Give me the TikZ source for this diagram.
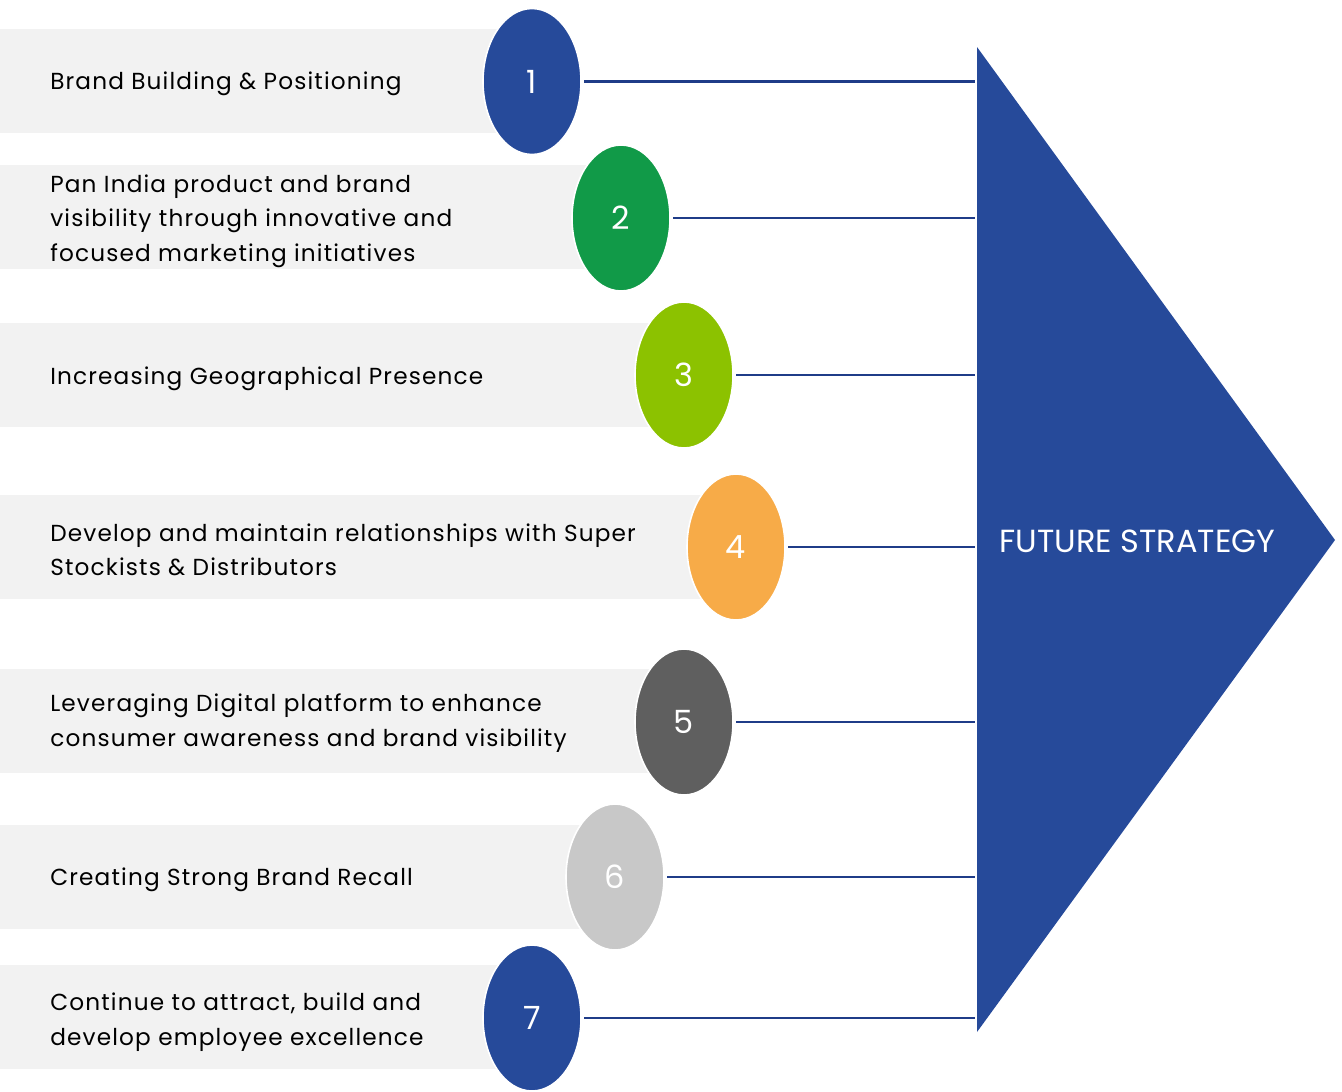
\documentclass[tikz,border=0pt]{standalone}
\usepackage{fontspec}
\setmainfont{Poppins}
\newfontfamily\widefont[LetterSpace=5]{Poppins}
\usepackage{tikz}
\usetikzlibrary{
  calc,
  positioning,
  shapes.geometric
}

\definecolor{stratblue}{HTML}{264A9A}
\definecolor{linkblue}{HTML}{1F3C88}
\definecolor{bandgray}{HTML}{F2F2F2}
\definecolor{stepgreen}{HTML}{119A48}
\definecolor{steplime}{HTML}{8CC200}
\definecolor{steporange}{HTML}{F7AB48}
\definecolor{stepdark}{HTML}{5F5F5F}
\definecolor{steplight}{HTML}{C8C8C8}

\tikzset{
  band/.style={fill=bandgray},
  stepoval/.style={ellipse,draw=white,line width=1.2pt,inner sep=0pt,
    minimum width=73.5pt,minimum height=109.5pt,text=white,
    font=\fontsize{24}{28}\selectfont},
  itemtext/.style={anchor=west,align=left,inner sep=0pt,
    font=\widefont\fontsize{17.4}{25.9}\selectfont},
  link/.style={linkblue,line width=2.2pt}
}

\begin{document}
\begin{tikzpicture}[x=0.75pt,y=-0.75pt]
  \useasboundingbox (0,0) rectangle (1342,1092);

  % grey bands behind the items
  \fill[band] (0,29) rectangle (532,133);
  \fill[band] (0,165) rectangle (621,269);
  \fill[band] (0,323) rectangle (684,427);
  \fill[band] (0,495) rectangle (736,599);
  \fill[band] (0,669) rectangle (684,773);
  \fill[band] (0,825) rectangle (615,929);
  \fill[band] (0,965) rectangle (532,1069);

  % item texts
  \node[itemtext] at (50,84) (t1) {Brand Building \& Positioning};
  \node[itemtext] at (50,221) (t2) {Pan India product and brand\\visibility through innovative and\\focused marketing initiatives};
  \node[itemtext] at (50,379) (t3) {Increasing Geographical Presence};
  \node[itemtext] at (50,550) (t4) {Develop and maintain relationships with Super\\Stockists \& Distributors};
  \node[itemtext] at (50,723) (t5) {Leveraging Digital platform to enhance\\consumer awareness and brand visibility};
  \node[itemtext] at (50,880) (t6) {Creating Strong Brand Recall};
  \node[itemtext] at (50,1022) (t7) {Continue to attract, build and\\develop employee excellence};

  % numbered ovals
  \node[stepoval,fill=stratblue] at (532,81.5) (e1) {1};
  \node[stepoval,fill=stepgreen] at (621,218) (e2) {2};
  \node[stepoval,fill=steplime] at (684,375) (e3) {3};
  \node[stepoval,fill=steporange] at (736,547) (e4) {4};
  \node[stepoval,fill=stepdark] at (684,722) (e5) {5};
  \node[stepoval,fill=steplight] at (615,877) (e6) {6};
  \node[stepoval,fill=stratblue] at (532,1018) (e7) {7};

  % big arrow head
  \coordinate (Top) at (977,47);
  \coordinate (Tip) at (1335,540);
  \coordinate (Bottom) at (977,1032);
  \coordinate (Edge) at (975,540);
  \fill[stratblue] (Top) -- (Tip) -- (Bottom) -- cycle;
  \node[text=white,font=\fontsize{24}{28}\selectfont] at (1137.5,541) (Strategy) {FUTURE STRATEGY};

  % links to the arrow
  \draw[link] ([xshift=2pt] e1.east) -- (e1 -| Edge);
  \draw[link] ([xshift=2pt] e2.east) -- (e2 -| Edge);
  \draw[link] ([xshift=2pt] e3.east) -- (e3 -| Edge);
  \draw[link] ([xshift=2pt] e4.east) -- (e4 -| Edge);
  \draw[link] ([xshift=2pt] e5.east) -- (e5 -| Edge);
  \draw[link] ([xshift=2pt] e6.east) -- (e6 -| Edge);
  \draw[link] ([xshift=2pt] e7.east) -- (e7 -| Edge);
\end{tikzpicture}
\end{document}
